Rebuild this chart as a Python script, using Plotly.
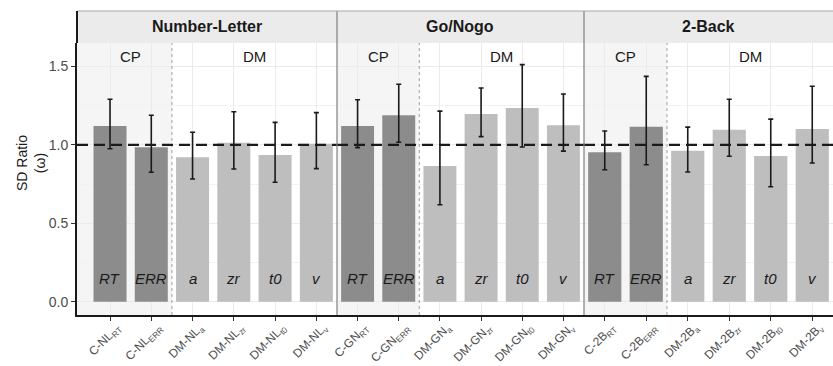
import plotly.graph_objects as go

# ---------------- data ----------------
panels = ["Number-Letter", "Go/Nogo", "2-Back"]
params = ["RT", "ERR", "a", "zr", "t0", "v"]
types = ["CP", "CP", "DM", "DM", "DM", "DM"]

nl_labels = ["C-NL<sub>RT</sub>", "C-NL<sub>ERR</sub>", "DM-NL<sub>a</sub>",
             "DM-NL<sub>zr</sub>", "DM-NL<sub>t0</sub>", "DM-NL<sub>v</sub>"]
gn_labels = ["C-GN<sub>RT</sub>", "C-GN<sub>ERR</sub>", "DM-GN<sub>a</sub>",
             "DM-GN<sub>zr</sub>", "DM-GN<sub>t0</sub>", "DM-GN<sub>v</sub>"]
b2_labels = ["C-2B<sub>RT</sub>", "C-2B<sub>ERR</sub>", "DM-2B<sub>a</sub>",
             "DM-2B<sub>zr</sub>", "DM-2B<sub>t0</sub>", "DM-2B<sub>v</sub>"]

nl_ratio = [1.12, 0.985, 0.92, 1.013, 0.935, 1.007]
nl_lo = [0.975, 0.825, 0.782, 0.846, 0.761, 0.848]
nl_hi = [1.29, 1.188, 1.08, 1.211, 1.143, 1.205]

gn_ratio = [1.12, 1.188, 0.865, 1.196, 1.235, 1.124]
gn_lo = [0.982, 1.016, 0.618, 1.052, 0.986, 0.96]
gn_hi = [1.287, 1.386, 1.215, 1.362, 1.511, 1.324]

b2_ratio = [0.952, 1.115, 0.962, 1.096, 0.929, 1.101]
b2_lo = [0.841, 0.873, 0.827, 0.927, 0.733, 0.884]
b2_hi = [1.088, 1.436, 1.113, 1.29, 1.164, 1.373]

reference_ratio = 1.0

# ---------------- layout geometry ----------------
W, H = 833, 366
ML, MR, MT, MB = 77, 0, 43, 51
PW = W - ML - MR
PH = H - MT - MB
edges_px = [77, 337, 584, 833]
doms = [[(edges_px[i] - ML) / PW, (edges_px[i + 1] - ML) / PW] for i in range(3)]
xranges = [[-0.8, 5.5], [-0.5, 5.5], [-0.5, 5.5]]
strip_top = 1 + 32 / PH

type_color = {"CP": "#8c8c8c", "DM": "#bebebe"}
font_family = "Liberation Sans, Arial, sans-serif"

fig = go.Figure()
datasets = [(nl_labels, nl_ratio, nl_lo, nl_hi),
            (gn_labels, gn_ratio, gn_lo, gn_hi),
            (b2_labels, b2_ratio, b2_lo, b2_hi)]

shapes = []
annotations = []
for i, (labels, ratio, lo, hi) in enumerate(datasets):
    xa = "x" if i == 0 else f"x{i+1}"
    fig.add_trace(go.Bar(
        x=labels, y=ratio, xaxis=xa, yaxis="y",
        marker=dict(color=[type_color[t] for t in types], line=dict(width=0)),
        error_y=dict(type="data", symmetric=False,
                     array=[h - r for h, r in zip(hi, ratio)],
                     arrayminus=[r - l for r, l in zip(ratio, lo)],
                     color="#1a1a1a", thickness=1.6, width=2.5),
        width=0.8, showlegend=False, hoverinfo="skip",
    ))
    # CP region background
    shapes.append(dict(type="rect", xref=xa, yref="paper", x0=xranges[i][0], x1=1.5,
                       y0=0, y1=1, fillcolor="#f5f5f5", line=dict(width=0), layer="below"))
    # CP / DM separator
    shapes.append(dict(type="line", xref=xa, yref="paper", x0=1.5, x1=1.5, y0=0, y1=1,
                       line=dict(color="#a0a0a0", width=1, dash="dot"), layer="above"))
    # dashed reference line
    shapes.append(dict(type="line", xref=xa, yref="y", x0=xranges[i][0], x1=xranges[i][1],
                       y0=reference_ratio, y1=reference_ratio,
                       line=dict(color="#1a1a1a", width=2.2, dash="11px,6px"), layer="above"))
    # strip
    shapes.append(dict(type="rect", xref="paper", yref="paper", x0=doms[i][0], x1=doms[i][1],
                       y0=1, y1=strip_top, fillcolor="#ebebeb", line=dict(width=0)))
    annotations.append(dict(xref="paper", yref="paper", x=(doms[i][0] + doms[i][1]) / 2,
                            y=1 + 16 / PH, text=f"<b>{panels[i]}</b>", showarrow=False,
                            font=dict(size=16, color="#1a1a1a", family=font_family),
                            xanchor="center", yanchor="middle"))
    # CP / DM labels
    annotations.append(dict(xref=xa, yref="y", x=0.5, y=1.56, text="CP", showarrow=False,
                            font=dict(size=15, color="#1a1a1a", family=font_family)))
    annotations.append(dict(xref=xa, yref="y", x=3.5, y=1.56, text="DM", showarrow=False,
                            font=dict(size=15, color="#1a1a1a", family=font_family)))
    # parameter labels inside bars
    for j, p in enumerate(params):
        annotations.append(dict(xref=xa, yref="y", x=j, y=0.15, text=f"<i>{p}</i>",
                                showarrow=False,
                                font=dict(size=15, color="#1a1a1a", family=font_family)))

# panel separators & strip top border
for xb in [doms[0][1], doms[1][1]]:
    shapes.append(dict(type="line", xref="paper", yref="paper", x0=xb, x1=xb, y0=0,
                       y1=strip_top, line=dict(color="#7f7f7f", width=1.2)))
shapes.append(dict(type="line", xref="paper", yref="paper", x0=0, x1=1, y0=strip_top,
                   y1=strip_top, line=dict(color="#a8a8a8", width=1)))
shapes.append(dict(type="line", xref="paper", yref="paper", x0=0, x1=0, y0=1,
                   y1=strip_top, line=dict(color="#1a1a1a", width=2)))

# y title
annotations.append(dict(xref="paper", yref="paper", x=(31 - ML) / PW, y=(H - MB - 163) / PH,
                        text="SD Ratio<br>(ω)", textangle=-90, showarrow=False,
                        xanchor="center", yanchor="middle",
                        font=dict(size=14, color="#1a1a1a", family=font_family)))

xaxis_common = dict(type="category", showgrid=True, gridcolor="#ebebeb", gridwidth=1,
                    showline=True, linecolor="#1a1a1a", linewidth=2, ticks="outside",
                    ticklen=4, tickcolor="#333333", tickangle=-45, automargin=False,
                    ticklabelshift=7, ticklabelstandoff=-5,
                    tickfont=dict(size=12, color="#4d4d4d", family=font_family),
                    anchor="y", zeroline=False, fixedrange=True)

layout = dict(
    width=W, height=H,
    margin=dict(l=ML, r=MR, t=MT, b=MB),
    paper_bgcolor="white", plot_bgcolor="white",
    bargap=0.2,
    shapes=shapes, annotations=annotations,
    yaxis=dict(range=[-0.085, 1.649], tickvals=[0, 0.5, 1.0, 1.5], tickformat=".1f",
               showgrid=True, gridcolor="#ebebeb", gridwidth=1,
               minor=dict(tickvals=[0.25, 0.75, 1.25], showgrid=True, gridcolor="#f2f2f2",
                          ticklen=0),
               showline=True, linecolor="#1a1a1a", linewidth=2, ticks="outside", ticklen=4,
               tickcolor="#333333", zeroline=False, automargin=False, anchor="x",
               tickfont=dict(size=14, color="#4d4d4d", family=font_family)),
)
for i in range(3):
    key = "xaxis" if i == 0 else f"xaxis{i+1}"
    ax = dict(xaxis_common)
    ax["domain"] = doms[i]
    ax["range"] = xranges[i]
    layout[key] = ax

fig.update_layout(**layout)
fig.write_html("out.html")
